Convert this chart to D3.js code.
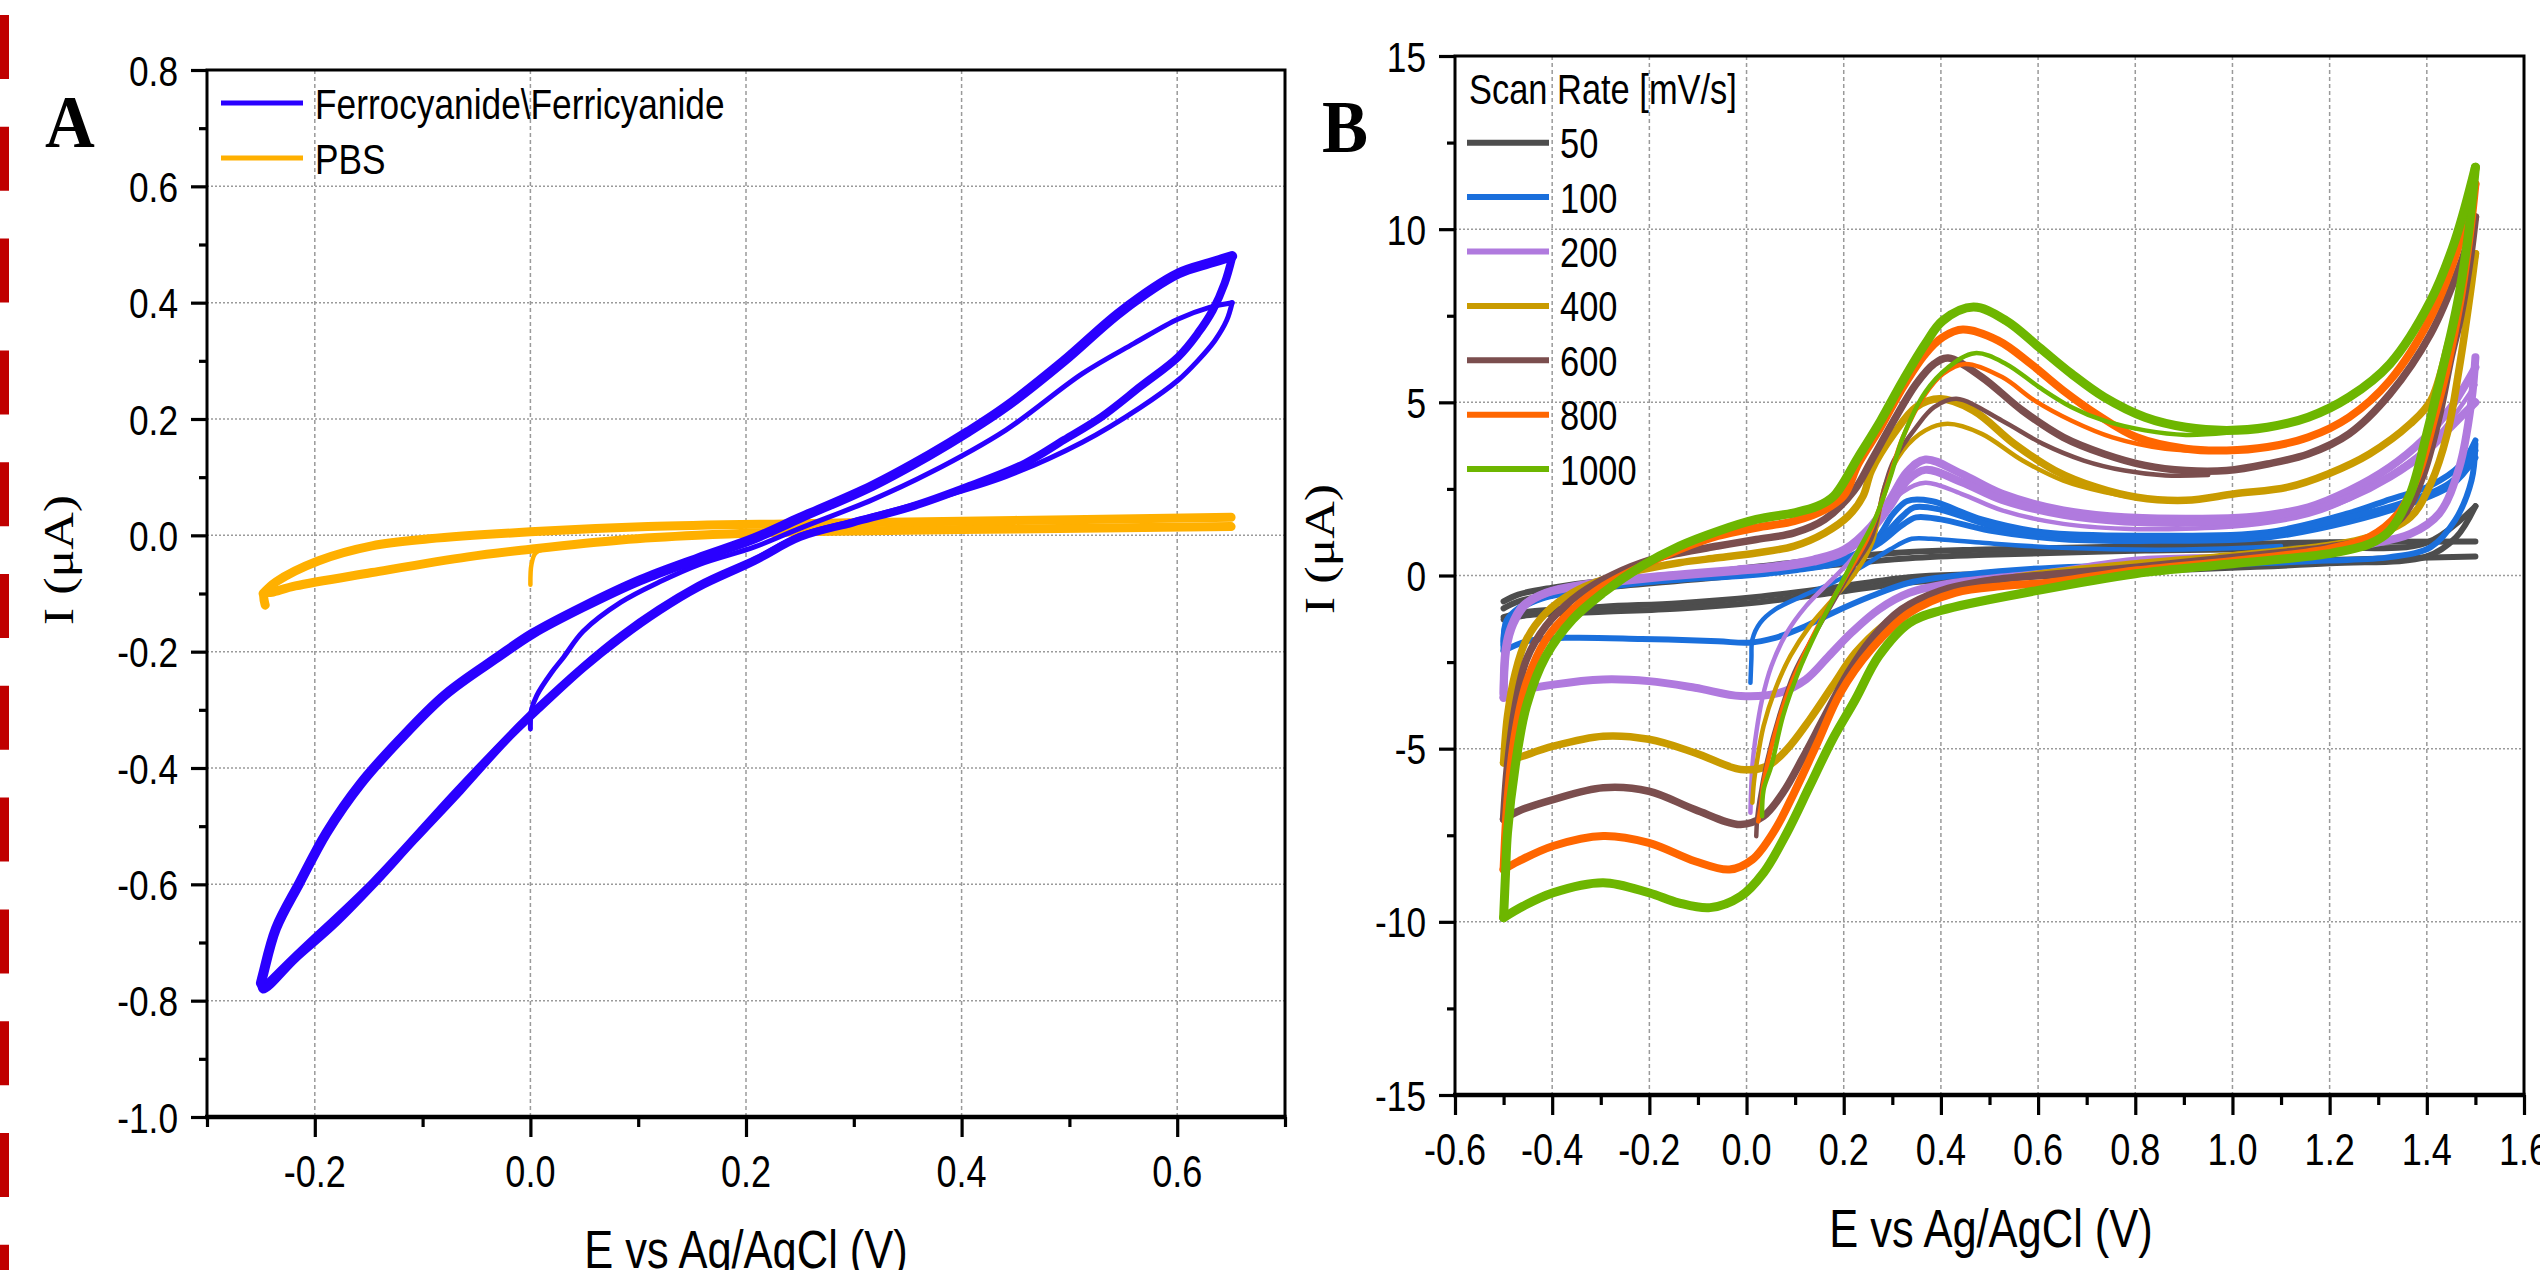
<!DOCTYPE html>
<html><head><meta charset="utf-8">
<script src="https://cdn.jsdelivr.net/npm/d3@7"></script>
<style>body{margin:0;background:#fff}svg{display:block}</style>
</head><body>
<svg id="c" width="2540" height="1270"></svg>
<script>
// ---------------- DATA ----------------
// Panel A tick labels
const aXTicks = [-0.2, 0.0, 0.2, 0.4, 0.6];
const aXMinor = [-0.3, -0.1, 0.1, 0.3, 0.5, 0.7];
const aYTicks = [-1.0, -0.8, -0.6, -0.4, -0.2, 0.0, 0.2, 0.4, 0.6, 0.8];
const aYMinor = [-0.9, -0.7, -0.5, -0.3, -0.1, 0.1, 0.3, 0.5, 0.7];
const aLegend = ["Ferrocyanide\\Ferricyanide", "PBS"];
const aColors = ["#2a00ff", "#ffb000"];

// Panel A: Ferrocyanide/Ferricyanide (E [V], I [uA])
const ferroFirst = [[0.000,-0.333],[0.001,-0.300],[0.006,-0.275],[0.020,-0.235],[0.031,-0.209],[0.049,-0.165],[0.084,-0.115],[0.120,-0.080],[0.157,-0.050],[0.208,-0.020],[0.250,0.012],[0.317,0.061],[0.370,0.107],[0.441,0.181],[0.512,0.278],[0.560,0.330],[0.601,0.372],[0.630,0.392],[0.651,0.400]];
const ferroFirstRev = [[0.651,0.400],[0.646,0.370],[0.635,0.335],[0.619,0.300],[0.601,0.267],[0.566,0.220],[0.512,0.160],[0.441,0.101],[0.370,0.060],[0.300,0.025],[0.250,0.000],[0.208,-0.040],[0.155,-0.085],[0.084,-0.170],[0.006,-0.295],[-0.065,-0.430],[-0.147,-0.595],[-0.218,-0.720],[-0.248,-0.775]];
const ferroFwd = [[-0.250,-0.770],[-0.248,-0.755],[-0.236,-0.676],[-0.214,-0.597],[-0.189,-0.511],[-0.157,-0.426],[-0.122,-0.353],[-0.079,-0.274],[-0.030,-0.209],[0.002,-0.169],[0.049,-0.123],[0.102,-0.077],[0.155,-0.040],[0.208,-0.005],[0.250,0.030],[0.317,0.085],[0.370,0.138],[0.406,0.178],[0.441,0.221],[0.495,0.300],[0.548,0.385],[0.601,0.450],[0.630,0.468],[0.651,0.480]];
const ferroRev = [[0.651,0.478],[0.644,0.433],[0.633,0.387],[0.619,0.347],[0.601,0.307],[0.566,0.256],[0.530,0.204],[0.495,0.164],[0.459,0.124],[0.406,0.084],[0.353,0.049],[0.299,0.022],[0.250,-0.003],[0.208,-0.044],[0.155,-0.090],[0.120,-0.129],[0.084,-0.176],[0.049,-0.228],[0.006,-0.301],[-0.023,-0.353],[-0.065,-0.439],[-0.108,-0.524],[-0.147,-0.603],[-0.182,-0.669],[-0.218,-0.728],[-0.248,-0.781],[-0.250,-0.770]];
// Panel A: PBS
const pbsStart = [[0.000,-0.085],[0.001,-0.050],[0.005,-0.030],[0.020,-0.022]];
const pbsLower = [[-0.246,-0.120],[-0.247,-0.100],[-0.240,-0.098],[-0.218,-0.087],[-0.147,-0.064],[-0.058,-0.037],[0.000,-0.024],[0.084,-0.008],[0.155,0.000],[0.250,0.006],[0.400,0.010],[0.550,0.013],[0.650,0.015]];
const pbsUpper = [[0.650,0.031],[0.500,0.027],[0.350,0.023],[0.250,0.020],[0.109,0.015],[0.000,0.006],[-0.094,-0.006],[-0.147,-0.018],[-0.197,-0.044],[-0.236,-0.080],[-0.248,-0.100]];

// Panel B tick labels
const bXTicks = [-0.6,-0.4,-0.2,0.0,0.2,0.4,0.6,0.8,1.0,1.2,1.4,1.6];
const bXMinor = [-0.5,-0.3,-0.1,0.1,0.3,0.5,0.7,0.9,1.1,1.3,1.5];
const bYTicks = [-15,-10,-5,0,5,10,15];
const bYMinor = [-12.5,-7.5,-2.5,2.5,7.5,12.5];
const scanRates = ["50","100","200","400","600","800","1000"];
const scanColors = ["#4d4d4d","#1a6fdc","#b07ade","#c99b00","#7b4e4e","#ff6600","#6db600"];

// Panel B: 50 mV/s
const r50Fwd = [[-0.500,-0.75],[-0.470,-0.55],[-0.400,-0.35],[-0.295,-0.15],[-0.138,0.00],[0.020,0.25],[0.177,0.50],[0.335,0.68],[0.492,0.75],[0.820,0.85],[1.200,0.96],[1.500,0.98]];
const r50Rev = [[1.500,0.55],[1.200,0.45],[0.820,0.25],[0.492,0.05],[0.335,-0.05],[0.177,-0.35],[0.020,-0.62],[-0.138,-0.80],[-0.295,-0.90],[-0.453,-1.05],[-0.500,-1.20]];
const r50Fwd2 = [[-0.500,-0.95],[-0.470,-0.75],[-0.400,-0.55],[-0.295,-0.35],[-0.138,-0.15],[0.020,0.05],[0.177,0.30],[0.335,0.50],[0.492,0.60],[0.820,0.72],[1.200,0.80],[1.400,0.95],[1.500,2.00]];
const r50Rev2 = [[1.500,2.00],[1.460,1.10],[1.400,0.55],[1.200,0.35],[0.820,0.12],[0.492,-0.10],[0.335,-0.20],[0.177,-0.50],[0.020,-0.78],[-0.138,-0.95],[-0.295,-1.05],[-0.453,-1.15],[-0.500,-1.27]];
// 100 mV/s
const r100First = [[0.008,-3.10],[0.010,-2.40],[0.012,-1.85],[0.028,-1.37],[0.059,-0.98],[0.114,-0.60],[0.177,-0.21],[0.240,0.27],[0.295,0.75],[0.340,1.06],[0.380,1.06],[0.480,0.95],[0.650,0.80],[0.900,0.75],[1.100,0.85]];
const r100Fwd = [[-0.500,-2.18],[-0.496,-1.46],[-0.476,-1.08],[-0.437,-0.69],[-0.374,-0.40],[-0.256,-0.21],[-0.138,-0.07],[-0.020,0.03],[0.059,0.12],[0.138,0.27],[0.216,0.56],[0.270,1.10],[0.300,1.75],[0.331,2.15],[0.380,2.15],[0.484,1.62],[0.610,1.25],[0.820,1.15],[1.072,1.25],[1.240,1.80],[1.324,2.20],[1.408,2.60],[1.470,3.20],[1.500,3.90]];
const r100Fwd2 = [[-0.500,-1.90],[-0.494,-1.30],[-0.470,-0.95],[-0.420,-0.60],[-0.300,-0.30],[-0.138,-0.12],[0.000,0.00],[0.100,0.15],[0.200,0.40],[0.270,0.90],[0.320,1.45],[0.349,1.68],[0.400,1.62],[0.500,1.30],[0.650,1.05],[0.850,1.00],[1.072,1.10],[1.240,1.55],[1.350,2.00],[1.450,2.60],[1.500,3.40]];
const r100Fwd3 = [[-0.500,-2.00],[-0.494,-1.40],[-0.470,-1.00],[-0.420,-0.66],[-0.300,-0.36],[-0.138,-0.10],[0.000,0.02],[0.100,0.18],[0.200,0.48],[0.270,1.00],[0.320,1.70],[0.345,1.97],[0.400,1.90],[0.500,1.45],[0.650,1.15],[0.850,1.08],[1.072,1.18],[1.240,1.68],[1.350,2.10],[1.450,2.70],[1.500,3.60]];
const r100Rev = [[1.500,3.80],[1.492,2.74],[1.458,1.59],[1.408,0.82],[1.324,0.53],[1.198,0.43],[1.005,0.34],[0.624,0.22],[0.453,0.03],[0.335,-0.21],[0.256,-0.60],[0.177,-1.08],[0.114,-1.51],[0.059,-1.80],[0.004,-1.94],[-0.059,-1.90],[-0.216,-1.83],[-0.374,-1.80],[-0.453,-1.90],[-0.500,-2.18]];
// 200 mV/s
const r200First = [[0.008,-6.85],[0.012,-5.50],[0.020,-4.54],[0.032,-3.58],[0.051,-2.62],[0.083,-1.65],[0.122,-0.89],[0.169,-0.21],[0.216,0.46],[0.256,1.23],[0.288,1.90],[0.320,2.40],[0.368,2.68],[0.442,2.36],[0.526,1.88],[0.652,1.49],[0.778,1.35],[0.904,1.35],[1.030,1.45],[1.156,1.75],[1.240,2.20],[1.324,2.90],[1.400,3.70],[1.450,4.50],[1.500,5.50]];
const r200Fwd = [[-0.500,-3.53],[-0.496,-2.14],[-0.484,-1.46],[-0.461,-0.89],[-0.413,-0.50],[-0.335,-0.26],[-0.256,-0.12],[-0.138,0.03],[-0.020,0.17],[0.059,0.27],[0.138,0.46],[0.201,0.75],[0.256,1.42],[0.295,2.19],[0.331,3.00],[0.368,3.35],[0.442,2.94],[0.526,2.36],[0.652,1.88],[0.778,1.68],[0.904,1.64],[1.030,1.68],[1.156,1.97],[1.240,2.45],[1.324,3.13],[1.391,3.90],[1.450,4.86],[1.500,6.01]];
const r200Fwd2 = [[-0.500,-3.40],[-0.494,-2.10],[-0.480,-1.40],[-0.455,-0.85],[-0.410,-0.50],[-0.330,-0.28],[-0.250,-0.15],[-0.138,0.00],[-0.020,0.13],[0.059,0.23],[0.138,0.40],[0.201,0.68],[0.256,1.30],[0.295,2.00],[0.331,2.75],[0.368,3.05],[0.442,2.70],[0.526,2.18],[0.652,1.75],[0.778,1.56],[0.904,1.52],[1.030,1.58],[1.156,1.85],[1.240,2.25],[1.324,2.85],[1.400,3.60],[1.450,4.30],[1.500,5.00]];
const r200Rev = [[1.500,6.30],[1.492,5.05],[1.467,3.13],[1.425,1.78],[1.366,1.20],[1.282,0.91],[1.198,0.72],[1.005,0.53],[0.803,0.43],[0.624,0.08],[0.429,-0.21],[0.335,-0.50],[0.272,-0.98],[0.216,-1.65],[0.169,-2.33],[0.122,-3.00],[0.067,-3.39],[-0.012,-3.48],[-0.106,-3.24],[-0.201,-3.05],[-0.295,-3.00],[-0.398,-3.15],[-0.469,-3.34],[-0.500,-3.53]];
// 400 mV/s
const r400First = [[0.012,-6.56],[0.015,-6.00],[0.020,-5.50],[0.035,-4.35],[0.059,-3.29],[0.090,-2.33],[0.130,-1.46],[0.177,-0.69],[0.224,0.08],[0.260,1.00],[0.285,2.60],[0.322,3.61],[0.368,4.19],[0.414,4.38],[0.484,4.09],[0.568,3.32],[0.652,2.74],[0.736,2.41],[0.820,2.21],[0.904,2.15]];
const r400Fwd = [[-0.500,-5.41],[-0.492,-4.06],[-0.476,-2.81],[-0.453,-1.85],[-0.413,-1.08],[-0.358,-0.50],[-0.295,-0.12],[-0.216,0.17],[-0.138,0.37],[-0.059,0.51],[0.020,0.65],[0.098,0.85],[0.161,1.23],[0.209,1.71],[0.240,2.30],[0.257,3.03],[0.303,4.09],[0.349,4.86],[0.397,5.10],[0.467,4.76],[0.551,3.80],[0.635,3.03],[0.719,2.55],[0.803,2.26],[0.904,2.17],[1.005,2.36],[1.114,2.55],[1.198,2.94],[1.282,3.51],[1.366,4.38],[1.408,5.05],[1.450,6.98],[1.484,8.40],[1.500,9.29]];
const r400Rev = [[1.500,9.29],[1.490,8.20],[1.467,6.01],[1.442,4.09],[1.408,2.65],[1.366,1.68],[1.282,1.11],[1.198,0.87],[1.005,0.58],[0.803,0.34],[0.624,0.08],[0.453,-0.31],[0.350,-0.79],[0.280,-1.46],[0.224,-2.23],[0.177,-3.19],[0.130,-4.16],[0.083,-5.02],[0.043,-5.50],[-0.012,-5.60],[-0.106,-5.12],[-0.201,-4.73],[-0.295,-4.64],[-0.398,-4.93],[-0.461,-5.22],[-0.500,-5.41]];
// 600 mV/s
const r600First = [[0.020,-7.53],[0.022,-7.00],[0.027,-6.47],[0.043,-5.31],[0.067,-4.06],[0.098,-2.81],[0.138,-1.75],[0.177,-0.79],[0.217,0.17],[0.256,1.04],[0.285,2.60],[0.303,3.32],[0.349,4.28],[0.386,4.86],[0.432,5.10],[0.526,4.47],[0.610,3.80],[0.694,3.32],[0.778,3.03],[0.862,2.89],[0.950,2.90]];
const r600Fwd = [[-0.500,-7.04],[-0.492,-5.50],[-0.476,-3.77],[-0.453,-2.43],[-0.413,-1.46],[-0.358,-0.69],[-0.295,-0.12],[-0.216,0.37],[-0.138,0.65],[-0.059,0.85],[0.020,1.04],[0.098,1.23],[0.161,1.62],[0.221,2.45],[0.257,3.32],[0.303,4.47],[0.349,5.53],[0.386,6.11],[0.415,6.28],[0.484,5.73],[0.568,4.76],[0.652,3.99],[0.736,3.51],[0.820,3.18],[0.904,3.03],[0.988,3.03],[1.072,3.22],[1.156,3.51],[1.240,4.09],[1.324,5.24],[1.408,6.98],[1.467,8.90],[1.500,10.35]];
const r600Rev = [[1.500,10.35],[1.490,9.20],[1.470,7.50],[1.450,6.30],[1.425,4.57],[1.391,2.84],[1.349,1.68],[1.282,1.06],[1.198,0.82],[1.005,0.53],[0.803,0.24],[0.624,0.03],[0.492,-0.16],[0.398,-0.45],[0.319,-0.98],[0.256,-1.85],[0.209,-2.81],[0.161,-4.06],[0.114,-5.31],[0.075,-6.27],[0.035,-6.95],[-0.012,-7.19],[-0.106,-6.76],[-0.201,-6.23],[-0.295,-6.13],[-0.398,-6.47],[-0.469,-6.80],[-0.500,-7.04]];
// 800 mV/s
const r800First = [[0.024,-7.10],[0.030,-6.60],[0.035,-5.99],[0.059,-4.54],[0.090,-3.19],[0.130,-1.94],[0.169,-0.89],[0.209,0.08],[0.248,1.04],[0.280,2.20],[0.322,4.00],[0.368,5.24],[0.404,5.82],[0.450,6.11],[0.526,5.73],[0.593,5.05],[0.669,4.47],[0.753,3.99],[0.862,3.66],[0.950,3.60]];
const r800Fwd = [[-0.500,-8.49],[-0.492,-6.47],[-0.476,-4.54],[-0.453,-3.10],[-0.413,-1.85],[-0.358,-0.98],[-0.295,-0.31],[-0.216,0.27],[-0.138,0.75],[-0.059,1.14],[0.020,1.38],[0.098,1.57],[0.161,1.90],[0.200,2.30],[0.230,3.22],[0.276,4.28],[0.322,5.44],[0.368,6.40],[0.404,6.88],[0.445,7.10],[0.518,6.78],[0.585,6.11],[0.652,5.34],[0.719,4.67],[0.803,3.99],[0.904,3.66],[0.988,3.61],[1.072,3.71],[1.156,3.99],[1.240,4.57],[1.324,5.63],[1.408,7.46],[1.458,9.19],[1.500,11.30]];
const r800Rev = [[1.500,11.30],[1.490,10.00],[1.470,8.00],[1.442,6.00],[1.416,4.57],[1.383,2.93],[1.341,1.78],[1.282,1.11],[1.198,0.77],[1.005,0.43],[0.803,0.15],[0.624,-0.20],[0.532,-0.30],[0.429,-0.50],[0.335,-1.08],[0.256,-2.14],[0.193,-3.39],[0.146,-4.83],[0.098,-6.27],[0.059,-7.33],[0.012,-8.20],[-0.035,-8.49],[-0.106,-8.25],[-0.201,-7.72],[-0.295,-7.52],[-0.398,-7.81],[-0.469,-8.25],[-0.500,-8.49]];
// 1000 mV/s
const r1000First = [[0.032,-6.95],[0.035,-6.20],[0.051,-5.50],[0.075,-4.06],[0.106,-2.81],[0.146,-1.56],[0.185,-0.50],[0.224,0.56],[0.264,1.62],[0.295,2.80],[0.322,4.00],[0.368,5.30],[0.414,6.00],[0.470,6.42],[0.534,6.11],[0.602,5.44],[0.669,4.86],[0.736,4.47],[0.820,4.19],[0.904,4.06],[0.988,4.12]];
const r1000Fwd = [[-0.500,-9.88],[-0.496,-8.60],[-0.492,-7.43],[-0.476,-5.50],[-0.453,-3.77],[-0.413,-2.33],[-0.358,-1.27],[-0.295,-0.50],[-0.216,0.27],[-0.138,0.85],[-0.059,1.28],[0.020,1.62],[0.098,1.81],[0.146,2.00],[0.180,2.30],[0.230,3.42],[0.276,4.47],[0.322,5.63],[0.368,6.69],[0.404,7.36],[0.467,7.75],[0.534,7.36],[0.602,6.59],[0.669,5.82],[0.736,5.15],[0.820,4.57],[0.904,4.28],[0.988,4.19],[1.072,4.28],[1.156,4.57],[1.240,5.15],[1.324,6.11],[1.408,7.94],[1.458,9.67],[1.500,11.79]];
const r1000Rev = [[1.500,11.79],[1.485,9.80],[1.465,8.00],[1.450,7.00],[1.433,6.00],[1.400,4.10],[1.366,2.36],[1.324,1.30],[1.282,0.91],[1.198,0.63],[1.000,0.34],[0.800,0.05],[0.600,-0.43],[0.400,-1.01],[0.335,-1.37],[0.272,-2.33],[0.224,-3.58],[0.177,-4.73],[0.130,-6.08],[0.083,-7.43],[0.035,-8.58],[-0.012,-9.26],[-0.075,-9.59],[-0.140,-9.45],[-0.201,-9.16],[-0.295,-8.87],[-0.398,-9.16],[-0.460,-9.55],[-0.500,-9.88]];

// ---------------- DRAWING ----------------
const svg = d3.select('#c');
const SX = 0.82;
const SANS = '"Liberation Sans", Arial, Helvetica, sans-serif';
const SERIF = '"Liberation Serif", "Times New Roman", serif';
const fmt1 = v => v.toFixed(1);          // plain hyphen-minus like the reference
const fmt0 = v => String(v);

function label(g, x, y, str, o) {
  o = o || {};
  const gg = g.append('g').attr('transform', `translate(${x},${y}) scale(${o.sx ?? SX},1)` + (o.rot ? ` rotate(${o.rot})` : ''));
  gg.append('text').attr('x', 0).attr('y', 0)
    .attr('text-anchor', o.anchor || 'start')
    .attr('font-family', o.family || SANS)
    .attr('font-size', o.size || 43)
    .attr('font-weight', o.weight || 'normal')
    .attr('fill', '#000').text(str);
}

// red dashed border on the far left
svg.append('line').attr('x1', 4.5).attr('x2', 4.5).attr('y1', 15).attr('y2', 1270)
  .attr('stroke', '#c00000').attr('stroke-width', 9).attr('stroke-dasharray', '64,47.8');

function panel(cfg) {
  const g = svg.append('g');
  const x = d3.scaleLinear(cfg.xd, cfg.xr);
  const y = d3.scaleLinear(cfg.yd, cfg.yr);
  // grid
  g.append('g').selectAll('line').data(cfg.xGrid).join('line')
    .attr('x1', d => x(d)).attr('x2', d => x(d)).attr('y1', cfg.yr[1]).attr('y2', cfg.yr[0])
    .attr('stroke', '#9a9a9a').attr('stroke-width', 1.5).attr('stroke-dasharray', '4,3');
  g.append('g').selectAll('line').data(cfg.yGrid).join('line')
    .attr('y1', d => y(d)).attr('y2', d => y(d)).attr('x1', cfg.xr[0]).attr('x2', cfg.xr[1])
    .attr('stroke', '#9a9a9a').attr('stroke-width', 1.5).attr('stroke-dasharray', '2,2');
  // curves
  const line = d3.line().x(d => x(d[0])).y(d => y(d[1])).curve(d3.curveCatmullRom.alpha(0.5));
  cfg.curves.forEach(c => {
    g.append('path').attr('d', line(c.data)).attr('fill', 'none')
      .attr('stroke', c.color).attr('stroke-width', c.w)
      .attr('stroke-linejoin', 'round').attr('stroke-linecap', 'round');
  });
  // axes (ticks)
  const styleAxis = a => { a.select('.domain').remove(); a.selectAll('line').attr('stroke', '#000').attr('stroke-width', 3.2); };
  g.append('g').attr('transform', `translate(0,${cfg.yr[0]})`)
    .call(d3.axisBottom(x).tickValues(cfg.xTicks).tickSize(20).tickFormat('')).call(styleAxis);
  g.append('g').attr('transform', `translate(0,${cfg.yr[0]})`)
    .call(d3.axisBottom(x).tickValues(cfg.xMinor).tickSize(10).tickFormat('')).call(styleAxis);
  g.append('g').attr('transform', `translate(${cfg.xr[0]},0)`)
    .call(d3.axisLeft(y).tickValues(cfg.yTicks).tickSize(16).tickFormat('')).call(styleAxis);
  g.append('g').attr('transform', `translate(${cfg.xr[0]},0)`)
    .call(d3.axisLeft(y).tickValues(cfg.yMinor).tickSize(8).tickFormat('')).call(styleAxis);
  // frame
  g.append('rect').attr('x', cfg.xr[0]).attr('y', cfg.yr[1]).attr('width', cfg.xr[1] - cfg.xr[0]).attr('height', cfg.yr[0] - cfg.yr[1])
    .attr('fill', 'none').attr('stroke', '#000').attr('stroke-width', 3);
  g.append('line').attr('x1', cfg.xr[0] - 2).attr('x2', cfg.xr[1] + 1.5).attr('y1', cfg.yr[0]).attr('y2', cfg.yr[0])
    .attr('stroke', '#000').attr('stroke-width', 4.5);
  // tick labels
  cfg.xTicks.forEach(v => label(g, x(v), cfg.yr[0] + 70, cfg.xFmt(v), { anchor: 'middle', size: 44 }));
  cfg.yTicks.forEach(v => label(g, cfg.xr[0] - 29, y(v) + 15.5, cfg.yFmt(v), { anchor: 'end', size: 43 }));
  return { g, x, y };
}

// ---- Panel A ----
const A = panel({
  xd: [-0.3, 0.7], xr: [207, 1285], yd: [-1.0, 0.8], yr: [1117, 70],
  xTicks: aXTicks, xMinor: aXMinor, yTicks: aYTicks, yMinor: aYMinor,
  xGrid: aXTicks, yGrid: aYTicks.filter(v => v > -1 && v < 0.8),
  xFmt: fmt1, yFmt: fmt1,
  curves: [
    { data: pbsLower, color: aColors[1], w: 9 },
    { data: pbsUpper, color: aColors[1], w: 9 },
    { data: pbsStart, color: aColors[1], w: 4.5 },
    { data: ferroFirst, color: aColors[0], w: 5 },
    { data: ferroFirstRev, color: aColors[0], w: 5 },
    { data: ferroFwd, color: aColors[0], w: 10 },
    { data: ferroRev, color: aColors[0], w: 8 }
  ]
});
// Legend A
aLegend.forEach((name, i) => {
  const yy = 103 + i * 55;
  svg.append('line').attr('x1', 221).attr('x2', 303).attr('y1', yy).attr('y2', yy)
    .attr('stroke', aColors[i]).attr('stroke-width', 5);
  label(svg, 315, yy + 15.5, name, { size: 43 });
});
label(svg, 45, 147, 'A', { family: SERIF, weight: 'bold', size: 75, sx: 0.92 });
label(svg, 746, 1268, 'E vs Ag/AgCl (V)', { anchor: 'middle', size: 53 });
label(svg, 73, 560, 'I (\u03bcA)', { anchor: 'middle', size: 52, family: SERIF, rot: -90 });

// ---- Panel B ----
const bCurves = [];
const bSets = [
  { first: null, fwd: [r50Fwd, r50Fwd2], rev: [r50Rev, r50Rev2], w: 6 },
  { first: r100First, fwd: [r100Fwd, r100Fwd2, r100Fwd3], rev: [r100Rev], w: 6 },
  { first: r200First, fwd: [r200Fwd, r200Fwd2], rev: [r200Rev], w: 8 },
  { first: r400First, fwd: [r400Fwd], rev: [r400Rev], w: 7.5 },
  { first: r600First, fwd: [r600Fwd], rev: [r600Rev], w: 7.5 },
  { first: r800First, fwd: [r800Fwd], rev: [r800Rev], w: 8 },
  { first: r1000First, fwd: [r1000Fwd], rev: [r1000Rev], w: 9 }
];
bSets.forEach((s, i) => {
  const col = scanColors[i];
  s.rev.forEach(d => bCurves.push({ data: d, color: col, w: s.w }));
  s.fwd.forEach(d => bCurves.push({ data: d, color: col, w: s.w }));
  if (s.first) bCurves.push({ data: s.first, color: col, w: 4.5 });
});
const B = panel({
  xd: [-0.6, 1.6], xr: [1455, 2524], yd: [-15, 15], yr: [1095, 56],
  xTicks: bXTicks, xMinor: bXMinor, yTicks: bYTicks, yMinor: bYMinor,
  xGrid: bXTicks.filter(v => v > -0.6 && v < 1.6), yGrid: bYTicks.filter(v => v > -15 && v < 15),
  xFmt: fmt1, yFmt: fmt0,
  curves: bCurves
});
// Legend B
label(svg, 1469, 104, 'Scan Rate [mV/s]', { size: 42 });
scanRates.forEach((name, i) => {
  const yy = 142.7 + i * 54.4;
  svg.append('line').attr('x1', 1467).attr('x2', 1549).attr('y1', yy).attr('y2', yy)
    .attr('stroke', scanColors[i]).attr('stroke-width', 6);
  label(svg, 1560, yy + 15.5, name, { size: 42 });
});
label(svg, 1322, 152, 'B', { family: SERIF, weight: 'bold', size: 75, sx: 0.92 });
label(svg, 1991, 1247, 'E vs Ag/AgCl (V)', { anchor: 'middle', size: 53 });
label(svg, 1334, 549, 'I (\u03bcA)', { anchor: 'middle', size: 52, family: SERIF, rot: -90 });
</script>
</body></html>
